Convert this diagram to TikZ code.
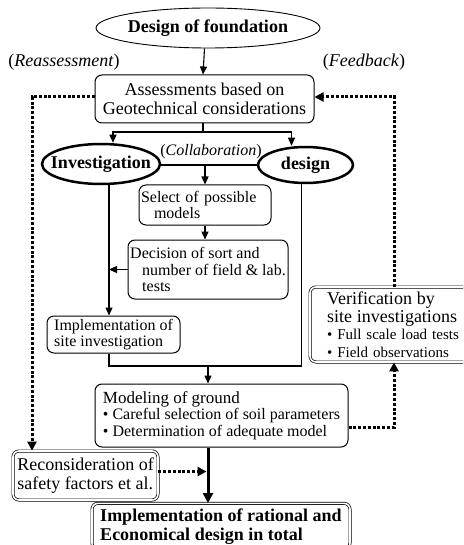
\documentclass[tikz,border=0pt]{standalone}
\usepackage{fontspec}
\setmainfont{Liberation Serif}
\usetikzlibrary{arrows.meta,shapes.geometric,calc}
\newcommand{\fsA}{\fontsize{18}{19}\selectfont}
\newcommand{\fsB}{\fontsize{16}{16.5}\selectfont}
\newcommand{\fsC}{\fontsize{15}{17.5}\selectfont}
\begin{document}
\begin{tikzpicture}[x=1pt,y=-1pt,
  box/.style={draw,rounded corners=7pt,line width=1pt,inner sep=2pt},
  dbox/.style={draw,rounded corners=6pt,double,double distance=1.6pt,line width=0.7pt,inner sep=2pt},
  oval/.style={draw,ellipse,inner sep=0pt},
  arr/.style={-{Triangle[length=8pt,width=7pt]},line width=1.1pt},
  dotl/.style={line width=3pt,dash pattern=on 3pt off 1.8pt},
  darr/.style={dotl,-{Triangle[length=9pt,width=9pt]}},
  lbl/.style={inner sep=0pt}]
\useasboundingbox (0,0) rectangle (463,545);
\clip (0,0) rectangle (463,545);

% nodes
\node[oval,line width=0.9pt,minimum width=224pt,minimum height=40pt,font=\fsA\bfseries] (dof) at (208,28) {\makebox[0pt]{Design of foundation}};
\node[lbl,font=\fsA] (rea) at (64,62) {(\textit{Reassessment})};
\node[lbl,font=\fsA] (fee) at (364,62) {(\textit{Feedback})};
\node[box,minimum width=219pt,minimum height=48pt,align=center,font=\fsA] (ass) at (204.5,99) {Assessments based on\\Geotechnical considerations};
\node[oval,line width=2.5pt,minimum width=118pt,minimum height=40pt,font=\fsA\bfseries] (inv) at (101,164) {\makebox[0pt]{Investigation}};
\node[oval,line width=2.5pt,minimum width=95pt,minimum height=36pt,font=\fsA\bfseries] (des) at (305.5,165) {\makebox[0pt]{design}};
\node[lbl,font=\fsB] (col) at (211,152) {(\textit{Collaboration})};
\node[box,minimum width=132pt,minimum height=40pt,text width=128pt,inner xsep=2pt,align=left,font=\fsB] (sel) at (205,205) {Select of possible\\\hspace*{13pt}models};
\node[box,minimum width=160pt,minimum height=59pt,align=left,font=\fsB] (dec) at (208,269.5) {Decision of sort and\\\hspace*{12pt}number of field \& lab.\\\hspace*{12pt}tests};
\node[box,minimum width=133pt,minimum height=37pt,align=left,font=\fsB] (imp) at (113.5,334.5) {Implementation of\\site investigation};
\node[dbox,minimum width=174pt,minimum height=75pt,text width=140pt,inner xsep=17pt,align=left,font=\fsC] (ver) at (397,324.5) {{\fsA Verification by}\\{\fsA site investigations}\\\textbullet{} Full scale load tests\\\textbullet{} Field observations};
\node[box,minimum width=253pt,minimum height=63pt,align=left,font=\fsB] (mod) at (221.5,415.5) {{\fontsize{17}{17}\selectfont Modeling of ground}\\\textbullet{} Careful selection of soil parameters\\\textbullet{} Determination of adequate model};
\node[dbox,minimum width=145pt,minimum height=49pt,align=left,font=\fsA] (rec) at (85.5,475.5) {Reconsideration of\\safety factors et al.};
\node[dbox,anchor=north,minimum width=258pt,inner ysep=5pt,align=left,font=\fsA\bfseries] (fin) at (221,503) {Implementation of rational and\\Economical design in total};

% coordinates
\coordinate (sp) at (203,132);
\coordinate (iv) at ([xshift=8pt]inv.south);
\coordinate (dv) at ([xshift=-4pt]des.south);
\coordinate (mg) at (208,366);
\coordinate (lx) at (32,0);
\coordinate (rx) at (394,0);

% connectors
\draw[arr] (ass.north |- dof.south) -- (ass.north -| sp);
\draw[line width=1.1pt] (ass.south -| sp) -- (sp);
\draw[arr] (sp) -| ([xshift=12pt]inv.north);
\draw[arr] (sp) -| ([xshift=-14pt]des.north);
\draw[line width=1.1pt] (inv.east |- des.west) -- (des.west);
\draw[arr] (sel.north |- des.west) -- (sel.north);
\draw[arr] (sel.south) -- (sel.south |- dec.north);
\draw[arr] (iv) -- (iv |- imp.north);
\draw[arr] (dec.west) -- (dec.west -| iv);
\draw[line width=1.1pt] (iv |- imp.south) -- (iv |- mg) -- (dv |- mg) -- (dv);
\draw[arr] (mg) -- (mg |- mod.north);
\draw[line width=3pt,-{Triangle[length=10pt,width=10pt]}] (mg |- mod.south) -- (mg |- fin.north);
\draw[darr,shorten >=1.5pt] ([yshift=4pt]rec.east) -- ([yshift=4pt]rec.east -| mg);
\draw[darr] ([yshift=2pt]ass.west) -| (lx |- rec.north);
\draw[darr] (rx |- ver.north) |- ([yshift=2pt]ass.east);
\draw[darr] ([yshift=-12pt]mod.east) -| (rx |- ver.south);
\end{tikzpicture}
\end{document}
